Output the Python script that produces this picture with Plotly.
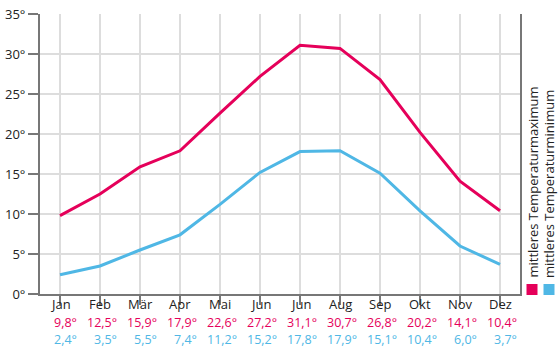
import plotly.graph_objects as go

months = ["Jan", "Feb", "Mär", "Apr", "Mai", "Jun", "Jun", "Aug", "Sep", "Okt", "Nov", "Dez"]
t_max = [9.8, 12.5, 15.9, 17.9, 22.6, 27.2, 31.1, 30.7, 26.8, 20.2, 14.1, 10.4]
t_min = [2.4, 3.5, 5.5, 7.4, 11.2, 15.2, 17.8, 17.9, 15.1, 10.4, 6.0, 3.7]
y_ticks = [0, 5, 10, 15, 20, 25, 30, 35]

RED = "#e5005a"
BLUE = "#4fb7e5"
AXIS = "#777777"
GRID = "#dddddd"
TEXT = "#222222"
FONT = "Open Sans"

W, H = 560, 350
L, R, T, B = 40, 40, 14, 56
pw, ph = W - L - R, H - T - B

xs = list(range(len(months)))

fig = go.Figure()
fig.add_trace(go.Scatter(x=xs, y=t_max, mode="lines", line=dict(color=RED, width=3),
                         name="mittleres Temperaturmaximum", hoverinfo="skip"))
fig.add_trace(go.Scatter(x=xs, y=t_min, mode="lines", line=dict(color=BLUE, width=3),
                         name="mittleres Temperaturminimum", hoverinfo="skip"))


def fmt(v):
    return f"{v:.1f}".replace(".", ",") + "°"


def py(px):
    # pixel row -> paper y
    return (H - B - px) / ph


def pxx(px):
    # pixel column -> paper x
    return (px - L) / pw


annotations = []
for i in xs:
    # month name centred in its column, then the two values right-aligned beneath
    annotations.append(dict(x=i, y=py(304), xref="x", yref="paper", text=months[i],
                            showarrow=False, xanchor="center", yanchor="middle", borderpad=0,
                            font=dict(family=FONT, size=13, color=TEXT)))
    annotations.append(dict(x=i + 0.44, y=py(322), xref="x", yref="paper", text=fmt(t_max[i]),
                            showarrow=False, xanchor="right", yanchor="middle", borderpad=0,
                            font=dict(family=FONT, size=12.5, color=RED)))
    annotations.append(dict(x=i + 0.44, y=py(339), xref="x", yref="paper", text=fmt(t_min[i]),
                            showarrow=False, xanchor="right", yanchor="middle", borderpad=0,
                            font=dict(family=FONT, size=12.5, color=BLUE)))

# vertical legend on the right side
legend_items = [("mittleres Temperaturmaximum", RED, 532), ("mittleres Temperaturminimum", BLUE, 549)]
shapes = []
for label, color, cx in legend_items:
    annotations.append(dict(x=pxx(cx), y=py(279), xref="paper", yref="paper", text=label,
                            textangle=-90, showarrow=False, xanchor="center", yanchor="bottom",
                            borderpad=0, font=dict(family=FONT, size=13, color=TEXT)))
    shapes.append(dict(type="rect", xref="paper", yref="paper",
                       x0=pxx(cx - 5.5), x1=pxx(cx + 5.5), y0=py(295), y1=py(284),
                       fillcolor=color, line=dict(width=0)))

fig.update_layout(
    width=W, height=H,
    margin=dict(l=L, r=R, t=T, b=B),
    paper_bgcolor="white", plot_bgcolor="white",
    showlegend=False,
    font=dict(family=FONT, size=13, color=TEXT),
    annotations=annotations,
    shapes=shapes,
    xaxis=dict(
        tickmode="array", tickvals=xs, ticktext=months, showticklabels=False,
        range=[-0.5, len(months) - 0.5],
        tickson="boundaries", automargin=False,
        showgrid=True, gridcolor=GRID, gridwidth=2,
        showline=True, linecolor=AXIS, linewidth=2,
        ticks="outside", ticklen=9, tickcolor=AXIS, tickwidth=2,
        zeroline=False, fixedrange=True,
    ),
    yaxis=dict(
        range=[0, 35], tickmode="array", tickvals=y_ticks,
        ticktext=[f"{v}°" for v in y_ticks], automargin=False,
        showgrid=True, gridcolor=GRID, gridwidth=2,
        showline=True, linecolor=AXIS, linewidth=2, mirror=True,
        ticks="outside", ticklen=10, tickcolor=AXIS, tickwidth=2,
        zeroline=False, fixedrange=True,
        tickfont=dict(family=FONT, size=13, color=TEXT),
    ),
)

fig.write_html("out.html", config={"displayModeBar": False})
